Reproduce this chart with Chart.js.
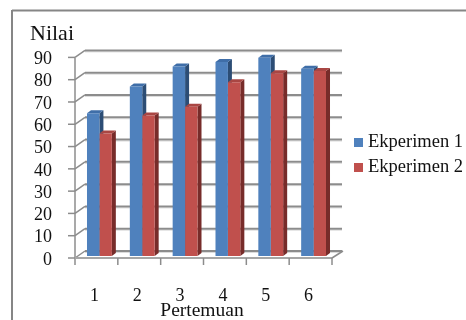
<!DOCTYPE html>
<html>
<head>
<meta charset="utf-8">
<style>
html, body { margin: 0; padding: 0; background: #fff; overflow: hidden; }
#wrap { position: relative; width: 466px; height: 320px; }
</style>
<script src="https://cdn.jsdelivr.net/npm/chart.js@4"></script>
</head>
<body>
<div id="wrap"><canvas id="nilaiChart" width="466" height="320"></canvas></div>
<script>
var categories = ['1', '2', '3', '4', '5', '6'];
var eksperimen1 = [64, 76, 85, 87, 89, 84];
var eksperimen2 = [55, 63, 67, 78, 82, 83];
var seriesNames = ['Ekperimen 1', 'Ekperimen 2'];
var seriesColors = ['#4f81bd', '#c0504d'];
var sideColors = ['#2c4d75', '#772c2a'];
var topColors = ['#3f6ea8', '#a94643'];
var xTitle = 'Pertemuan';

var fontName = '"Liberation Serif", serif';
var gridColor = '#8c8c8c';
var depthX = 10;   // wall depth
var depthY = 7;
var frontShift = 3; // front axis sits left/below of bar plane

function line(ctx, x1, y1, x2, y2, color, width) {
  ctx.strokeStyle = color;
  ctx.lineWidth = width;
  ctx.beginPath();
  ctx.moveTo(x1, y1);
  ctx.lineTo(x2, y2);
  ctx.stroke();
}

// outer frame + 3d walls behind the bars
var wallPlugin = {
  id: 'wall',
  beforeDatasetsDraw: function (chart) {
    var ctx = chart.ctx, y = chart.scales.y, x = chart.scales.x;
    var left = x.left - frontShift, right = x.right - frontShift;
    ctx.save();
    line(ctx, 12, 10.5, 466, 10.5, '#868686', 2);
    line(ctx, 12, 10, 12, 320, '#868686', 2);
    y.ticks.forEach(function (t) {
      var py = y.getPixelForValue(t.value) + 2;
      line(ctx, left + depthX, py - depthY + 1.5, right + depthX, py - depthY + 1.5, '#dcdcdc', 1);
      line(ctx, left + depthX, py - depthY, right + depthX, py - depthY, gridColor, 2);
      line(ctx, left, py, left + depthX, py - depthY, gridColor, 1.5);
      line(ctx, left - 7, py, left, py, gridColor, 1.5);
    });
    var py0 = y.getPixelForValue(0) + 2;
    line(ctx, left, y.getPixelForValue(90) + 2, left, py0 + 7, gridColor, 1.5);
    line(ctx, left, py0, right, py0, '#a6a6a6', 2);
    line(ctx, right, py0, right + depthX + 1, py0 - depthY, gridColor, 1.5);
    var step = (right - left) / categories.length;
    for (var i = 1; i <= categories.length; i++) {
      line(ctx, left + step * i, py0, left + step * i, py0 + 7, gridColor, 1.5);
    }
    // side and top faces of the bars
    chart.data.datasets.forEach(function (ds, d) {
      chart.getDatasetMeta(d).data.forEach(function (bar) {
        var l = bar.x - bar.width / 2, r = bar.x + bar.width / 2, t = bar.y, b = bar.base;
        ctx.fillStyle = sideColors[d];
        ctx.beginPath();
        ctx.moveTo(r, t);
        ctx.lineTo(r + 4, t - 3);
        ctx.lineTo(r + 4, b - 3);
        ctx.lineTo(r, b);
        ctx.fill();
        ctx.fillStyle = topColors[d];
        ctx.beginPath();
        ctx.moveTo(l, t);
        ctx.lineTo(l + 4, t - 3);
        ctx.lineTo(r + 4, t - 3);
        ctx.lineTo(r, t);
        ctx.fill();
      });
    });
    ctx.restore();
  }
};

// legend and axis title placed by hand
var keyPlugin = {
  id: 'key',
  afterDraw: function (chart) {
    var ctx = chart.ctx;
    ctx.save();
    ctx.font = '18.5px ' + fontName;
    ctx.textBaseline = 'middle';
    chart.data.datasets.forEach(function (ds, i) {
      var py = 142 + i * 25;
      ctx.fillStyle = ds.backgroundColor;
      ctx.fillRect(354, py - 4, 9, 9);
      ctx.fillStyle = '#111';
      ctx.fillText(ds.label, 368, py);
    });
    ctx.font = '19.5px ' + fontName;
    ctx.textAlign = 'center';
    ctx.fillText(xTitle, 202, 311);
    ctx.restore();
  }
};

new Chart(document.getElementById('nilaiChart'), {
  type: 'bar',
  data: {
    labels: categories,
    datasets: [
      { label: seriesNames[0], data: eksperimen1, backgroundColor: seriesColors[0] },
      { label: seriesNames[1], data: eksperimen2, backgroundColor: seriesColors[1] }
    ]
  },
  plugins: [wallPlugin, keyPlugin],
  options: {
    responsive: false,
    animation: false,
    layout: { padding: { left: 30, right: 131, top: 21, bottom: 0 } },
    datasets: { bar: { categoryPercentage: 0.58, barPercentage: 1 } },
    plugins: {
      legend: { display: false },
      tooltip: { enabled: false },
      title: {
        display: true,
        text: 'Nilai',
        align: 'start',
        color: '#111',
        font: { family: fontName, size: 22, weight: 'normal' },
        padding: { top: 0, bottom: 8 }
      }
    },
    scales: {
      x: {
        grid: { display: false },
        border: { display: false },
        afterFit: function (scale) { scale.height = 64; },
        ticks: {
          color: '#111',
          font: { family: fontName, size: 18 },
          padding: 21,
          labelOffset: -5,
          maxRotation: 0
        }
      },
      y: {
        min: 0,
        max: 90,
        grid: { display: false },
        border: { display: false },
        afterFit: function (scale) { scale.width = 48; },
        ticks: {
          stepSize: 10,
          autoSkip: false,
          color: '#111',
          font: { family: fontName, size: 18 },
          padding: 18,
          labelOffset: 4
        }
      }
    }
  }
});
</script>
</body>
</html>
